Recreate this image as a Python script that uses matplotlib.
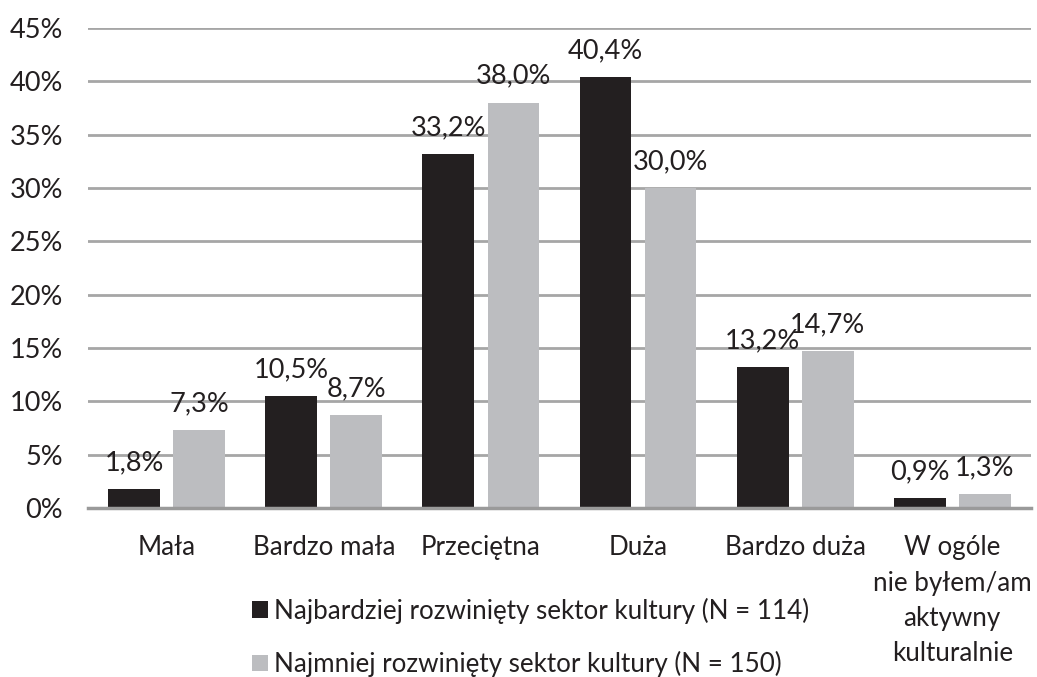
import numpy as np
import matplotlib.pyplot as plt
from matplotlib.ticker import FuncFormatter

plt.rcParams['font.family'] = ['Lato', 'DejaVu Sans']

# data
categories = ["Mała", "Bardzo mała", "Przeciętna", "Duża", "Bardzo duża",
              "W ogóle\nnie byłem/am\naktywny\nkulturalnie"]
najbardziej = [1.8, 10.5, 33.2, 40.4, 13.2, 0.9]
najmniej = [7.3, 8.7, 38.0, 30.0, 14.7, 1.3]
series_labels = ["Najbardziej rozwinięty sektor kultury (N = 114)",
                 "Najmniej rozwinięty sektor kultury (N = 150)"]

dark = "#231f20"
light = "#bcbdc0"
text_col = "#231f20"
fs_num = 19.5   # numbers (ticks, value labels)
fs_txt = 18.7   # words (categories, legend)

fig = plt.figure(figsize=(10.37, 6.77), dpi=100)
ax = fig.add_axes([0.085, 0.2496, 0.909, 0.709])

x = np.arange(len(categories))
w = 0.33
off = 0.207
b1 = ax.bar(x - off, najbardziej, w, color=dark, label=series_labels[0], zorder=3)
b2 = ax.bar(x + off, najmniej, w, color=light, label=series_labels[1], zorder=3)

for bars, vals in [(b1, najbardziej), (b2, najmniej)]:
    for rect, v in zip(bars, vals):
        ax.annotate(f"{v:.1f}%".replace(".", ","),
                    (rect.get_x() + rect.get_width() / 2, v),
                    xytext=(0, 10), textcoords="offset points",
                    ha="center", va="bottom", fontsize=fs_num, color=text_col)

ax.set_xlim(-0.5, len(categories) - 0.5)
ax.set_ylim(0, 45)
ax.set_yticks(np.arange(0, 46, 5))
ax.yaxis.set_major_formatter(FuncFormatter(lambda v, p: f"{v:.0f}%"))
ax.set_xticks(x)
ax.set_xticklabels(categories, linespacing=1.52, va="top", fontsize=fs_txt)
ax.tick_params(axis="y", length=0, pad=18, labelsize=fs_num, labelcolor=text_col)
ax.tick_params(axis="x", length=0, pad=19.5, labelcolor=text_col)

ax.grid(axis="y", color="#a6a6a6", linewidth=2, zorder=0)
for s in ["top", "right", "left"]:
    ax.spines[s].set_visible(False)
ax.spines["bottom"].set_color("#9a9a9a")
ax.spines["bottom"].set_linewidth(2.5)
ax.spines["bottom"].set_zorder(4)

fig.legend(handles=[b1, b2], loc="upper left", bbox_to_anchor=(0.243, 0.117),
           frameon=False, fontsize=fs_txt, handlelength=0.6, handleheight=0.6,
           handletextpad=0.25, labelspacing=1.05, labelcolor=text_col,
           borderaxespad=0, borderpad=0)

fig.savefig("out.png", dpi=100, facecolor="white")
